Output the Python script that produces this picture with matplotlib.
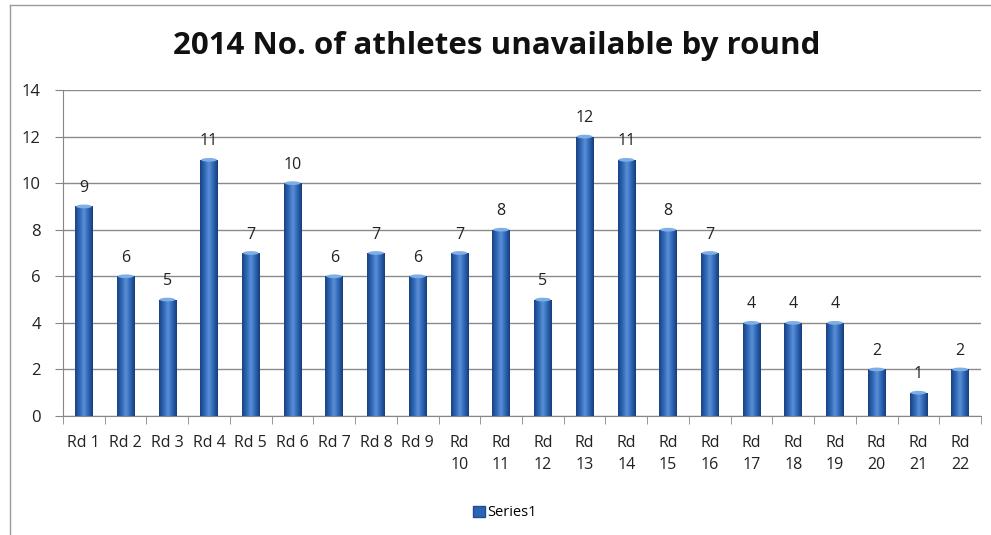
import matplotlib
matplotlib.use("Agg")
import matplotlib.pyplot as plt
import numpy as np
from matplotlib.patches import Patch, Ellipse
from matplotlib.lines import Line2D
from matplotlib.colors import LinearSegmentedColormap

categories = ["Rd 1", "Rd 2", "Rd 3", "Rd 4", "Rd 5", "Rd 6", "Rd 7", "Rd 8", "Rd 9",
              "Rd\n10", "Rd\n11", "Rd\n12", "Rd\n13", "Rd\n14", "Rd\n15", "Rd\n16",
              "Rd\n17", "Rd\n18", "Rd\n19", "Rd\n20", "Rd\n21", "Rd\n22"]
values = [9, 6, 5, 11, 7, 10, 6, 7, 6, 7, 8, 5, 12, 11, 8, 7, 4, 4, 4, 2, 1, 2]
yticks = [0, 2, 4, 6, 8, 10, 12, 14]
title = "2014 No. of athletes unavailable by round"
series_name = "Series1"

plt.rcParams['font.family'] = ['Open Sans', 'DejaVu Sans']

fig = plt.figure(figsize=(9.91, 5.35), dpi=100)
# chart border (left and top visible in reference)
fig.add_artist(Line2D([10/991, 10/991], [0, 1 - 5/535], transform=fig.transFigure,
                      color="#9a9a9a", linewidth=1.0))
fig.add_artist(Line2D([10/991, 1], [1 - 5/535, 1 - 5/535], transform=fig.transFigure,
                      color="#9a9a9a", linewidth=1.0))
ax = fig.add_axes([63/991, 1 - 416/535, (981 - 63)/991, (416 - 90)/535])

x = np.arange(len(values))
bw = 0.42
bars = ax.bar(x, values, width=bw, color="#2c64b0", edgecolor="none", zorder=3)

cmap = LinearSegmentedColormap.from_list("cyl", ["#1a4282", "#2d66b4", "#5a90d6", "#2d66b4", "#173d7a"])
grad = np.linspace(0, 1, 64).reshape(1, -1)
for b in bars:
    x0, w, h = b.get_x(), b.get_width(), b.get_height()
    im = ax.imshow(grad, extent=[x0, x0 + w, 0, h], aspect="auto", cmap=cmap, zorder=4)
    im.set_clip_path(b)
    ax.add_patch(Ellipse((x0 + w/2, h), w * 0.9, 0.16, facecolor="#7eaee6",
                         edgecolor="none", zorder=5))

for xi, v in zip(x, values):
    ax.text(xi, v + 0.45, str(v), ha="center", va="bottom", fontsize=11.5, color="#222222", zorder=6)

ax.set_xlim(-0.5, len(values) - 0.5)
ax.set_ylim(0, 14)
ax.set_yticks(yticks)
ax.set_yticklabels([str(t) for t in yticks], fontsize=12, color="#222222")
ax.set_xticks(x)
ax.set_xticklabels(categories, fontsize=11.5, color="#222222", linespacing=1.45, va="top")
ax.tick_params(axis="x", length=0, pad=14)
ax.set_xticks(np.arange(-0.5, len(values), 1), minor=True)
ax.tick_params(axis="x", which="minor", length=6, color="#868686", direction="out")
ax.tick_params(axis="y", length=6, color="#868686", direction="out", pad=10)
ax.grid(axis="y", color="#8a8a8a", linewidth=1.0, zorder=0)
ax.set_axisbelow(True)
for s in ["top", "right"]:
    ax.spines[s].set_visible(False)
for s in ["left", "bottom"]:
    ax.spines[s].set_color("#868686")

fig.text(0.5015, 1 - 46/535, title, ha="center", va="center", fontsize=22.5, fontweight="bold",
         color="#111111")

fig.legend(handles=[Patch(facecolor="#2c64b0", edgecolor="#1f4f94", label=series_name)],
           loc="center", bbox_to_anchor=(505/991, 1 - 513/535), frameon=False,
           fontsize=10.5, handlelength=0.8, handleheight=0.8, handletextpad=0.2)

fig.savefig("out.png", dpi=100)
